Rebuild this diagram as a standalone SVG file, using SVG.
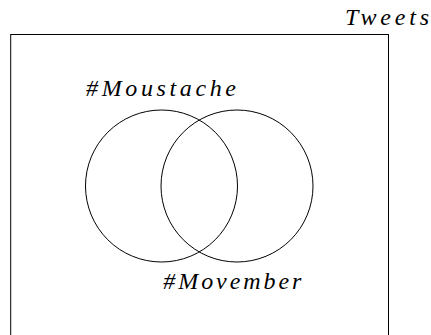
<svg xmlns="http://www.w3.org/2000/svg" width="431" height="335" viewBox="0 0 431 335">
<style>
.s{fill:none;stroke:#000;stroke-width:1}
.t{font-family:"Liberation Serif","DejaVu Serif",serif;font-style:italic;font-size:24px;fill:#000}
</style>
<rect width="431" height="335" fill="#fff"/>
<g id="tweets">
<rect class="s" x="10.7" y="34.5" width="377.8" height="320"/>
<text class="t" x="345" y="25" textLength="84" lengthAdjust="spacing">Tweets</text>
</g>
<g id="moustache">
<circle class="s" cx="161.5" cy="186" r="76"/>
<text class="t" x="86" y="96" textLength="150" lengthAdjust="spacing">#Moustache</text>
</g>
<g id="movember">
<circle class="s" cx="237" cy="186" r="76"/>
<text class="t" x="163.3" y="288.5" textLength="138" lengthAdjust="spacing">#Movember</text>
</g>
<g id="connectors"></g>
</svg>
